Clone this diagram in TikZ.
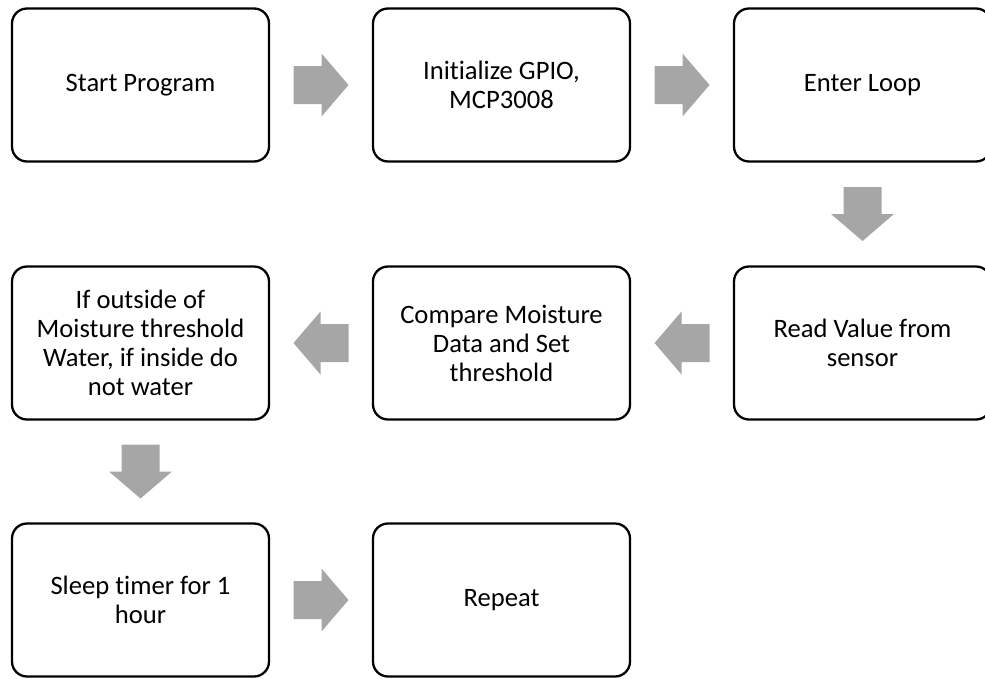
\documentclass[tikz,border=0pt]{standalone}
\usepackage{fontspec}
\setmainfont{Carlito}[RawFeature={-liga;-clig;-dlig}]
\usetikzlibrary{calc}
\definecolor{flowgray}{HTML}{A6A6A6}
\tikzset{
  stepbox/.style={draw=black, line width=2.3pt, rounded corners=15pt, rectangle,
    minimum width=257pt, minimum height=153pt, inner sep=0pt, align=center,
    font=\fontsize{26.6}{29}\selectfont, text=black},
  pics/rarr/.style={code={\fill[flowgray] (-27.5,-19) -- (0.5,-19) -- (0.5,-31.5) -- (27.5,0) -- (0.5,31.5) -- (0.5,19) -- (-27.5,19) -- cycle;}},
  pics/larr/.style={code={\fill[flowgray] (27.5,-19) -- (-0.5,-19) -- (-0.5,-31.5) -- (-27.5,0) -- (-0.5,31.5) -- (-0.5,19) -- (27.5,19) -- cycle;}},
  pics/darr/.style={code={\fill[flowgray] (-19,-27) -- (-19,0) -- (-31.5,0) -- (0,27) -- (31.5,0) -- (19,0) -- (19,-27) -- cycle;}}
}
\begin{document}
\begin{tikzpicture}[x=1pt, y=-1pt]
\useasboundingbox (0,0) rectangle (985,678);
\node[stepbox] (s1) at (140.5,85) {Start Program};
\node[stepbox] (s2) at (501.5,85) {Initialize GPIO,\\MCP3008};
\node[stepbox] (s3) at (862.5,85) {Enter Loop};
\node[stepbox] (s4) at (862.5,343) {Read Value from\\sensor};
\node[stepbox] (s5) at (501.5,343) {Compare Moisture\\Data and Set\\threshold};
\node[stepbox] (s6) at (140.5,343) {If outside of\\Moisture threshold\\Water, if inside do\\not water};
\node[stepbox] (s7) at (140.5,600) {Sleep timer for 1\\hour};
\node[stepbox] (s8) at (501.5,600) {Repeat};
\pic at ($(s1.east)!0.5!(s2.west)$) {rarr};
\pic at ($(s2.east)!0.5!(s3.west)$) {rarr};
\pic at ($(s3.south)!0.5!(s4.north)$) {darr};
\pic at ($(s4.west)!0.5!(s5.east)$) {larr};
\pic at ($(s5.west)!0.5!(s6.east)$) {larr};
\pic at ($(s6.south)!0.5!(s7.north)$) {darr};
\pic at ($(s7.east)!0.5!(s8.west)$) {rarr};
\end{tikzpicture}
\end{document}
